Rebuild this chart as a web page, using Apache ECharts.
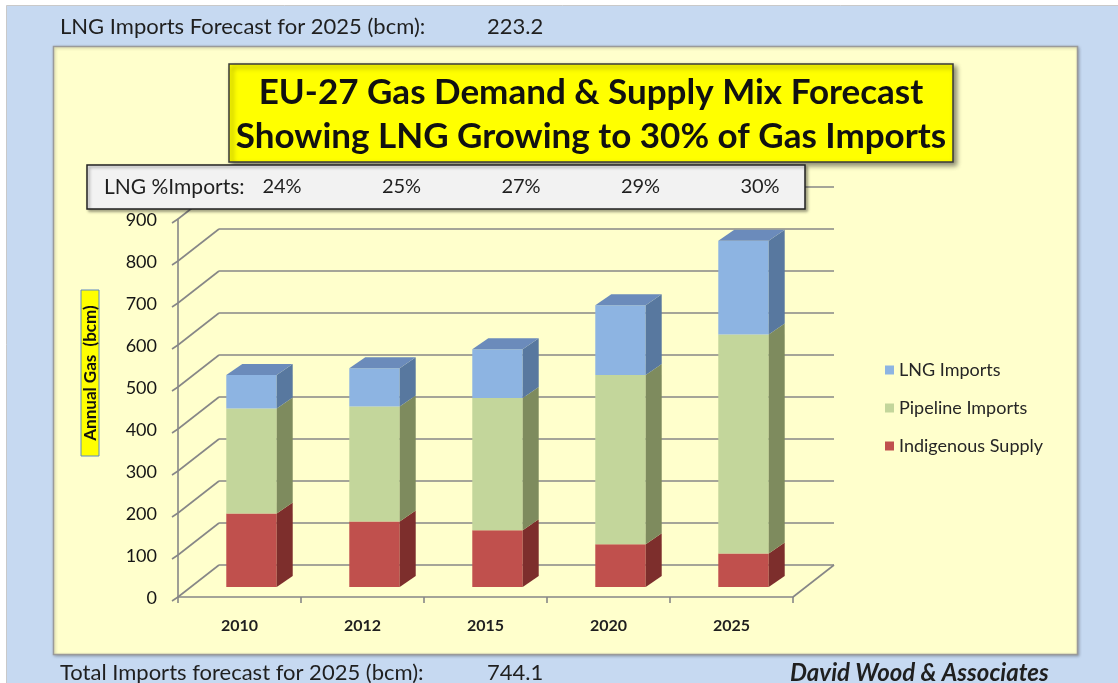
<!DOCTYPE html>
<html>
<head>
<meta charset="utf-8">
<title>EU-27 Gas Demand & Supply Mix Forecast</title>
<script src="https://cdn.jsdelivr.net/npm/echarts@6/dist/echarts.min.js"></script>
<style>
  html, body { margin: 0; padding: 0; background: #fff; }
  #chart { width: 1118px; height: 683px; }
</style>
</head>
<body>
<div id="chart"></div>
<script>
// data (bcm)
var years = ['2010', '2012', '2015', '2020', '2025'];
var indigenous = [175, 156, 135, 102, 80];
var pipeline = [250, 274, 315, 403, 521];
var lng = [80, 91, 116, 166, 223.2];
var lngShare = ['24%', '25%', '27%', '29%', '30%'];
var yTicks = [0, 100, 200, 300, 400, 500, 600, 700, 800, 900];

var FONT = 'Lato, "Open Sans", sans-serif';
// wall depth (back wall offset from front axis plane)
var WDX = 41, WDY = -32;
// bar front face offset and bar depth
var FDX = 12, FDY = -10, BDX = 16, BDY = -11;

var colors = {
  lng: { front: '#8db4e2', side: '#58789f', top: '#6b8bbb' },
  pipe: { front: '#c3d69b', side: '#7e8b5e', top: '#9aac72' },
  indi: { front: '#c0504d', side: '#7d2e2c', top: '#9a3b39' }
};

// stacked ranges built from the arrays
function ranges(vals, bases) {
  return vals.map(function (v, i) { return [i, bases[i], bases[i] + v]; });
}
var zeros = years.map(function () { return 0; });
var base2 = indigenous.slice();
var base3 = indigenous.map(function (v, i) { return v + pipeline[i]; });

function barRender(c, withTop) {
  return function (params, api) {
    var i = api.value(0);
    var pLo = api.coord([i, api.value(1)]);
    var pHi = api.coord([i, api.value(2)]);
    var w = api.size([1, 0])[0] * 0.41;
    var x0 = pLo[0] + FDX - w / 2, x1 = x0 + w;
    var yb = pLo[1] + FDY, yt = pHi[1] + FDY;
    var kids = [
      { type: 'polygon', shape: { points: [[x0, yt], [x1, yt], [x1, yb], [x0, yb]] }, style: { fill: c.front } },
      { type: 'polygon', shape: { points: [[x1, yt], [x1 + BDX, yt + BDY], [x1 + BDX, yb + BDY], [x1, yb]] }, style: { fill: c.side } }
    ];
    if (withTop) {
      kids.push({ type: 'polygon', shape: { points: [[x0, yt], [x0 + BDX, yt + BDY], [x1 + BDX, yt + BDY], [x1, yt]] }, style: { fill: c.top } });
    }
    return { type: 'group', children: kids };
  };
}

// back wall gridlines, side wall diagonals, tick marks and value labels
function frameRender(params, api) {
  var cs = params.coordSys;
  var v = api.value(1);
  var y = api.coord([0, v])[1];
  var left = cs.x, right = cs.x + cs.width;
  var st = { stroke: '#878787', lineWidth: 1.6 };
  var kids = [
    { type: 'line', shape: { x1: left + WDX, y1: y + WDY, x2: right + WDX, y2: y + WDY }, style: st },
    { type: 'line', shape: { x1: left, y1: y, x2: left + WDX, y2: y + WDY }, style: st },
    { type: 'line', shape: { x1: left, y1: y, x2: left - 6, y2: y + 4 }, style: st },
    { type: 'text', x: left - 21, y: y + 1,
      style: { text: String(v), font: '18px ' + FONT, fill: '#151515', align: 'right', verticalAlign: 'middle' } }
  ];
  if (v === 0) {
    kids.push({ type: 'line', shape: { x1: right, y1: y, x2: right + WDX, y2: y + WDY }, style: st });
  }
  return { type: 'group', children: kids };
}

var chart = echarts.init(document.getElementById('chart'));

var graphics = [
  { type: 'rect', z: -2, shape: { x: 6.5, y: 5.5, width: 1112, height: 678 }, style: { fill: '#c6d9f1', stroke: '#c9c9c9', lineWidth: 1 } },
  { type: 'rect', z: -1, shape: { x: 53.5, y: 46.5, width: 1024, height: 608 },
    style: { fill: '#ffffcc', stroke: '#9a9a9a', lineWidth: 1.5, shadowBlur: 3, shadowColor: 'rgba(0,0,0,0.25)', shadowOffsetX: 1, shadowOffsetY: 1 } },
  { type: 'text', z: 5, x: 60, y: 27, style: { text: 'LNG Imports Forecast for 2025 (bcm):', font: '22px ' + FONT, fill: '#1f1f1f', verticalAlign: 'middle' } },
  { type: 'text', z: 5, x: 487, y: 27, style: { text: '223.2', font: '22px ' + FONT, fill: '#1f1f1f', verticalAlign: 'middle' } },
  { type: 'text', z: 5, x: 60, y: 673, style: { text: 'Total Imports forecast for 2025 (bcm):', font: '22px ' + FONT, fill: '#1f1f1f', verticalAlign: 'middle' } },
  { type: 'text', z: 5, x: 487, y: 673, style: { text: '744.1', font: '22px ' + FONT, fill: '#1f1f1f', verticalAlign: 'middle' } },
  { type: 'text', z: 5, x: 790, y: 673, style: { text: 'David Wood & Associates', font: 'italic bold 24px ' + FONT, fill: '#1f1f1f', verticalAlign: 'middle' } },
  // title box
  { type: 'rect', z: 50, shape: { x: 229, y: 64, width: 724, height: 98 },
    style: { fill: '#ffff00', stroke: '#3a3a3a', lineWidth: 1.5, shadowBlur: 5, shadowColor: 'rgba(0,0,0,0.45)', shadowOffsetX: 3, shadowOffsetY: 3 } },
  { type: 'text', z: 51, x: 591, y: 93, style: { text: 'EU-27 Gas Demand & Supply Mix Forecast', font: 'bold 35px ' + FONT, fill: '#111', align: 'center', verticalAlign: 'middle' } },
  { type: 'text', z: 51, x: 591, y: 137, style: { text: 'Showing LNG Growing to 30% of Gas Imports', font: 'bold 35px ' + FONT, fill: '#111', align: 'center', verticalAlign: 'middle' } },
  // LNG share box
  { type: 'rect', z: 50, shape: { x: 87, y: 165, width: 718, height: 44 },
    style: { fill: '#f2f2f2', stroke: '#222', lineWidth: 1.5, shadowBlur: 3, shadowColor: 'rgba(0,0,0,0.35)', shadowOffsetX: 2, shadowOffsetY: 2 } },
  { type: 'text', z: 51, x: 104, y: 187, style: { text: 'LNG %Imports:', font: '21px ' + FONT, fill: '#1f1f1f', verticalAlign: 'middle' } },
  // y axis name box
  { type: 'rect', z: 50, shape: { x: 81, y: 290, width: 18, height: 166 }, style: { fill: '#ffff00', stroke: '#5b87c5', lineWidth: 1 } },
  { type: 'text', z: 51, x: 90.5, y: 373, rotation: Math.PI / 2,
    style: { text: 'Annual Gas  (bcm)', font: 'bold 17px ' + FONT, fill: '#111', align: 'center', verticalAlign: 'middle' } }
];
lngShare.forEach(function (s, i) {
  graphics.push({ type: 'text', z: 51, x: 282 + i * 119.5, y: 187,
    style: { text: s, font: '20px ' + FONT, fill: '#1f1f1f', align: 'center', verticalAlign: 'middle' } });
});

chart.setOption({
  animation: false,
  textStyle: { fontFamily: FONT },
  graphic: graphics,
  grid: { left: 178, right: 325, top: 219, bottom: 86 },
  legend: {
    data: ['LNG Imports', 'Pipeline Imports', 'Indigenous Supply'],
    orient: 'vertical',
    left: 880,
    top: 356,
    itemGap: 20,
    itemWidth: 9,
    itemHeight: 9,
    icon: 'rect',
    textStyle: { fontSize: 18, color: '#262626', fontFamily: FONT, padding: [0, 0, 0, 0] }
  },
  xAxis: {
    type: 'category',
    data: years,
    axisLine: { lineStyle: { color: '#878787', width: 1.6 } },
    axisTick: { show: true, length: 6, lineStyle: { color: '#878787', width: 1.6 } },
    axisLabel: { margin: 21, fontSize: 16, fontWeight: 'bold', color: '#1f1f1f', fontFamily: FONT }
  },
  yAxis: {
    type: 'value',
    min: 0,
    max: 900,
    interval: 100,
    axisLine: { show: true, lineStyle: { color: '#878787', width: 1.6 } },
    axisTick: { show: false },
    splitLine: { show: false },
    axisLabel: { show: false }
  },
  series: [
    {
      name: 'frame', type: 'custom', z: 1, silent: true,
      renderItem: frameRender,
      encode: { x: 0, y: 1 },
      data: yTicks.map(function (v) { return [0, v]; })
    },
    {
      name: 'Indigenous Supply', type: 'custom', z: 3,
      itemStyle: { color: colors.indi.front },
      renderItem: barRender(colors.indi, false),
      encode: { x: 0, y: [1, 2] },
      data: ranges(indigenous, zeros)
    },
    {
      name: 'Pipeline Imports', type: 'custom', z: 3,
      itemStyle: { color: colors.pipe.front },
      renderItem: barRender(colors.pipe, false),
      encode: { x: 0, y: [1, 2] },
      data: ranges(pipeline, base2)
    },
    {
      name: 'LNG Imports', type: 'custom', z: 3,
      itemStyle: { color: colors.lng.front },
      renderItem: barRender(colors.lng, true),
      encode: { x: 0, y: [1, 2] },
      data: ranges(lng, base3)
    }
  ]
});
</script>
</body>
</html>
